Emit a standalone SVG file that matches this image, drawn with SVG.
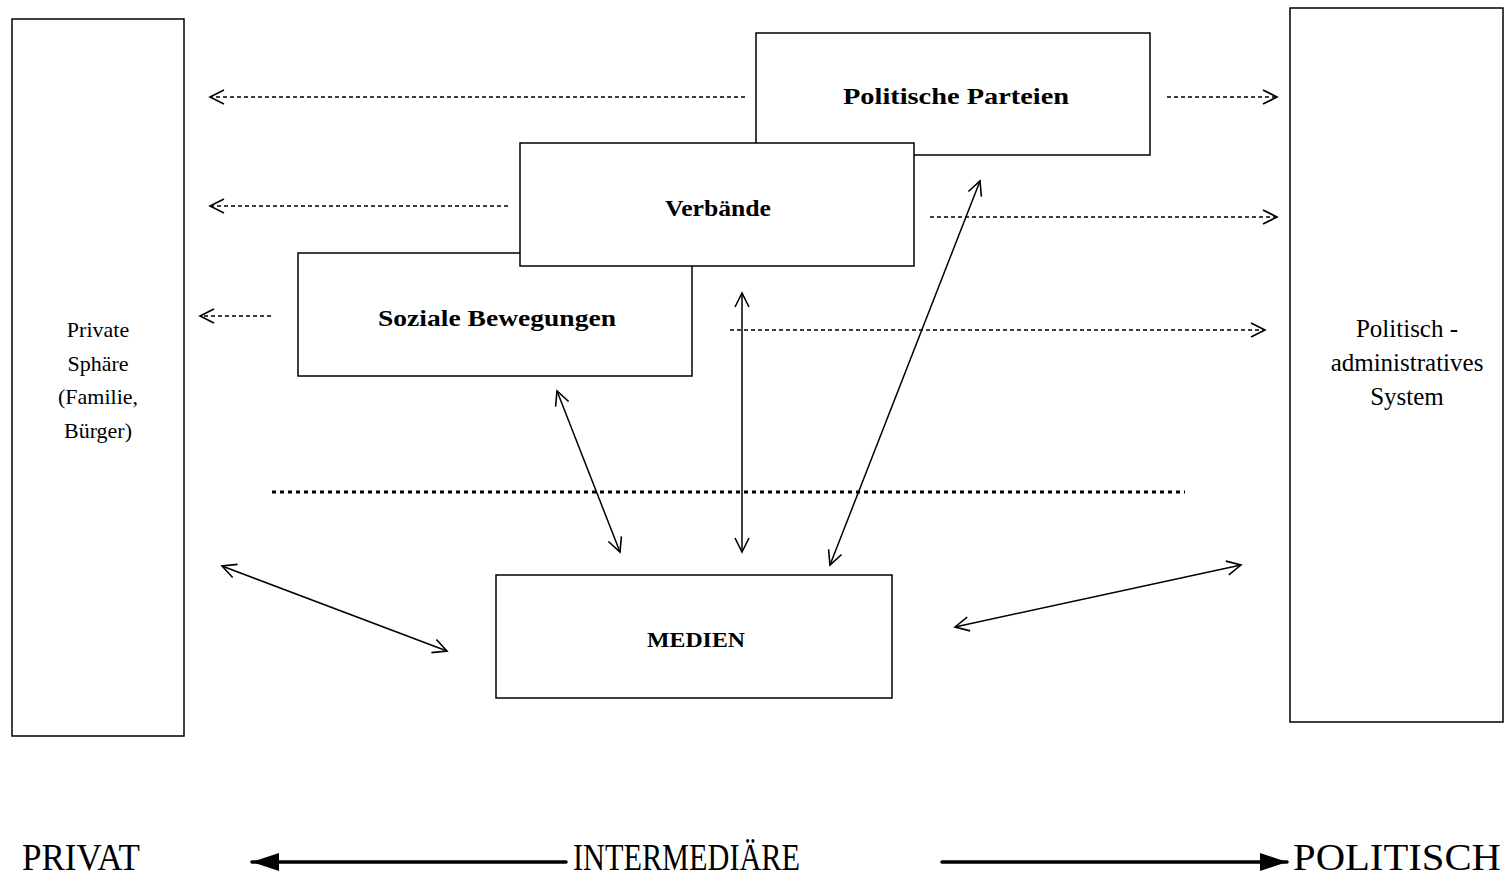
<svg xmlns="http://www.w3.org/2000/svg" width="1504" height="878" viewBox="0 0 1504 878">
<style>
.box{fill:#fff;stroke:#000;stroke-width:1.5}
.lbl{font-family:"Liberation Serif","Times New Roman",serif;font-weight:bold;font-size:24px}
.side{font-family:"Liberation Serif","Times New Roman",serif;font-size:22px;text-anchor:middle}
.big{font-family:"Liberation Serif","Times New Roman",serif;font-size:37px}
.dash{stroke:#000;stroke-width:1.3;stroke-dasharray:4 3;fill:none}
.dbl{stroke:#000;stroke-width:1.5;fill:none}
.thick{stroke:#000;stroke-width:3.5;fill:none;stroke-linecap:round}
</style>
<defs>
<marker id="open" markerUnits="userSpaceOnUse" markerWidth="20" markerHeight="20" refX="15" refY="8" orient="auto-start-reverse" viewBox="0 0 20 16">
<path d="M1,1 L15,8 L1,15" fill="none" stroke="#000" stroke-width="1.6"/>
</marker>
<marker id="solid" markerUnits="userSpaceOnUse" markerWidth="30" markerHeight="22" refX="27" refY="10" orient="auto-start-reverse" viewBox="0 0 30 20">
<path d="M0,1 L27,10 L0,19 Z" fill="#000"/>
</marker>
</defs>
<g id="private">
<rect class="box" x="12" y="19" width="172" height="717"/>
<text class="side" x="98" y="337">Private</text>
<text class="side" x="98" y="371">Sphäre</text>
<text class="side" x="98" y="404">(Familie,</text>
<text class="side" x="98" y="438">Bürger)</text>
</g>
<g id="politisch">
<rect class="box" x="1290" y="8" width="213" height="714"/>
<text class="side" x="1407" y="337" style="font-size:25px">Politisch -</text>
<text class="side" x="1407" y="371" style="font-size:25px">administratives</text>
<text class="side" x="1407" y="405" style="font-size:25px">System</text>
</g>
<g id="parteien">
<rect class="box" x="756" y="33" width="394" height="122"/>
<text class="lbl" x="843" y="104" textLength="226" lengthAdjust="spacingAndGlyphs">Politische Parteien</text>
</g>
<g id="soziale">
<rect class="box" x="298" y="253" width="394" height="123"/>
<text class="lbl" x="378" y="326" textLength="238" lengthAdjust="spacingAndGlyphs">Soziale Bewegungen</text>
</g>
<g id="verbaende">
<rect class="box" x="520" y="143" width="394" height="123"/>
<text class="lbl" x="665" y="216" textLength="106" lengthAdjust="spacingAndGlyphs">Verbände</text>
</g>
<g id="medien">
<rect class="box" x="496" y="575" width="396" height="123"/>
<text class="lbl" x="647" y="647" style="font-size:20px" textLength="98" lengthAdjust="spacingAndGlyphs">MEDIEN</text>
</g>
<g id="connectors">
<line class="dash" x1="745" y1="97" x2="210" y2="97" marker-end="url(#open)"/>
<line class="dash" x1="1167" y1="97" x2="1277" y2="97" marker-end="url(#open)"/>
<line class="dash" x1="508" y1="206" x2="210" y2="206" marker-end="url(#open)"/>
<line class="dash" x1="930" y1="217" x2="1277" y2="217" marker-end="url(#open)"/>
<line class="dash" x1="271" y1="316" x2="200" y2="316" marker-end="url(#open)"/>
<line class="dash" x1="730" y1="330" x2="1265" y2="330" marker-end="url(#open)"/>
<line x1="272" y1="492" x2="1185" y2="492" stroke="#000" stroke-width="3" stroke-dasharray="4 4"/>
<line class="dbl" x1="557" y1="391" x2="620" y2="552" marker-start="url(#open)" marker-end="url(#open)"/>
<line class="dbl" x1="742" y1="293" x2="742" y2="552" marker-start="url(#open)" marker-end="url(#open)"/>
<line class="dbl" x1="980" y1="181" x2="830" y2="565" marker-start="url(#open)" marker-end="url(#open)"/>
<line class="dbl" x1="222" y1="566" x2="447" y2="651" marker-start="url(#open)" marker-end="url(#open)"/>
<line class="dbl" x1="955" y1="627" x2="1241" y2="565" marker-start="url(#open)" marker-end="url(#open)"/>
<line class="thick" x1="566" y1="862" x2="252" y2="862" marker-end="url(#solid)"/>
<line class="thick" x1="942" y1="862" x2="1287" y2="862" marker-end="url(#solid)"/>
</g>
<g id="axis-labels">
<text class="big" x="22" y="870" textLength="118" lengthAdjust="spacingAndGlyphs">PRIVAT</text>
<text class="big" x="573" y="870" textLength="227" lengthAdjust="spacingAndGlyphs">INTERMEDIÄRE</text>
<text class="big" x="1293" y="870" textLength="208" lengthAdjust="spacingAndGlyphs">POLITISCH</text>
</g>
</svg>
